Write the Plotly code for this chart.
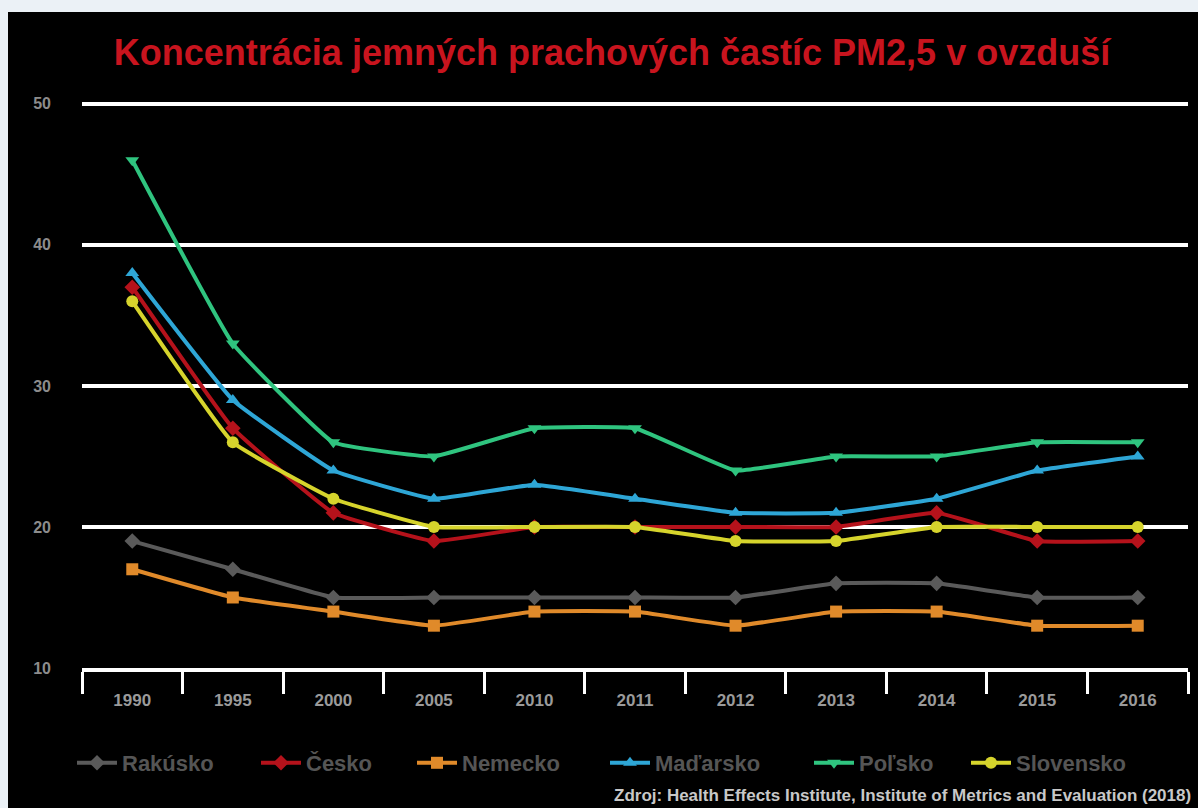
import plotly.graph_objects as go

years = ["1990", "1995", "2000", "2005", "2010", "2011", "2012", "2013", "2014", "2015", "2016"]

rakusko = [19, 17, 15, 15, 15, 15, 15, 16, 16, 15, 15]
cesko = [37, 27, 21, 19, 20, 20, 20, 20, 21, 19, 19]
nemecko = [17, 15, 14, 13, 14, 14, 13, 14, 14, 13, 13]
madarsko = [38, 29, 24, 22, 23, 22, 21, 21, 22, 24, 25]
polsko = [46, 33, 26, 25, 27, 27, 24, 25, 25, 26, 26]
slovensko = [36, 26, 22, 20, 20, 20, 19, 19, 20, 20, 20]

series = [
    ("Rakúsko", rakusko, "#5a5a5a", "diamond"),
    ("Česko", cesko, "#b5121b", "diamond"),
    ("Nemecko", nemecko, "#e08a2a", "square"),
    ("Maďarsko", madarsko, "#2ea6d6", "triangle-up"),
    ("Poľsko", polsko, "#2fc47f", "triangle-down"),
    ("Slovensko", slovensko, "#d6d42c", "circle"),
]

FONT = "Liberation Sans, Arial, sans-serif"

# plot area: x 82..1188, y ~101..668 in pixels
L, R, T, B = 82, 10, 101, 140
W, H = 1198, 808
pw, ph = W - L - R, H - T - B

def px_x(x):
    return (x - L) / pw

def px_y(y):
    return (H - B - y) / ph

legend_px = [72, 256, 412, 605, 809, 966]

fig = go.Figure()
legends = {}
for i, (name, vals, color, sym) in enumerate(series):
    key = "legend" if i == 0 else f"legend{i + 1}"
    fig.add_trace(go.Scatter(
        x=years, y=vals, name=name, mode="lines+markers",
        line=dict(color=color, width=4, shape="spline", smoothing=0.3),
        marker=dict(symbol=sym, size=12, color=color),
        legend=key,
    ))
    legends[key] = dict(
        orientation="h", x=px_x(legend_px[i]), xanchor="left",
        y=px_y(763), yanchor="middle",
        font=dict(family=FONT, size=22, color="#555555", weight="bold"),
        bgcolor="rgba(0,0,0,0)", itemwidth=40,
    )

fig.add_shape(type="rect", xref="paper", yref="paper",
              x0=px_x(8), x1=px_x(1198), y0=px_y(808), y1=px_y(12),
              fillcolor="black", line=dict(width=0), layer="below")

fig.add_annotation(
    text="Zdroj: Health Effects Institute, Institute of Metrics and Evaluation (2018)",
    xref="paper", yref="paper", x=px_x(1193), y=px_y(795),
    xanchor="right", yanchor="middle", showarrow=False,
    font=dict(family=FONT, size=17, color="#c8c8c8", weight="bold"),
)

fig.update_layout(
    width=W, height=H,
    margin=dict(l=L, r=R, t=T, b=B),
    paper_bgcolor="#ebf1f6",
    plot_bgcolor="black",
    title=dict(
        text="Koncentrácia jemných prachových častíc PM2,5 v ovzduší",
        x=612 / W, xanchor="center", y=1 - 52 / H, yanchor="middle",
        font=dict(family=FONT, size=36, color="#c8141e", weight="bold"),
    ),
    showlegend=True,
    xaxis=dict(
        type="category", range=[-0.5, len(years) - 0.5],
        showgrid=False, showline=True, linecolor="white", linewidth=4,
        ticks="outside", tickson="boundaries", ticklen=22, tickwidth=3, tickcolor="white",
        ticklabelstandoff=14,
        tickfont=dict(family=FONT, size=17, color="#9a9a9a", weight="bold"),
        zeroline=False,
    ),
    yaxis=dict(
        range=[10, 50.2], dtick=10, showgrid=True, gridcolor="white", gridwidth=4,
        showline=False, zeroline=False, ticks="",
        ticklabelstandoff=30,
        tickfont=dict(family=FONT, size=16, color="#8c8c8c", weight="bold"),
    ),
    **legends,
)

fig.write_html(
    "out.html",
    config={"displayModeBar": False},
    post_script="document.body.style.margin='0px';document.body.style.overflow='hidden';",
)
